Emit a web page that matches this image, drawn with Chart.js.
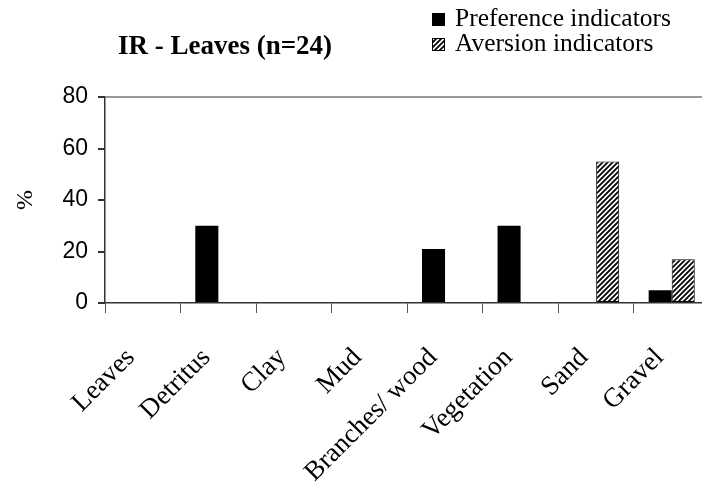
<!DOCTYPE html>
<html>
<head>
<meta charset="utf-8">
<script src="https://cdn.jsdelivr.net/npm/chart.js@4/dist/chart.umd.min.js"></script>
<style>
  html, body { margin: 0; padding: 0; background: #fff; overflow: hidden; }
  #wrap { width: 702px; height: 493px; overflow: hidden; }
</style>
</head>
<body>
<div id="wrap"><canvas id="chart" width="724" height="493"></canvas></div>
<script>
var categories = ["Leaves", "Detritus", "Clay", "Mud", "Branches/ wood", "Vegetation", "Sand", "Gravel"];
var preference = [0, 30, 0, 0, 21, 30, 0, 5];
var aversion = [0, 0, 0, 0, 0, 0, 55, 17];
var yTicks = [0, 20, 40, 60, 80];
var chartTitle = "IR - Leaves (n=24)";

// diagonal hatch for the aversion bars
function hatch() {
  var c = document.createElement("canvas");
  c.width = 5; c.height = 5;
  var g = c.getContext("2d");
  g.fillStyle = "#fff";
  g.fillRect(0, 0, 5, 5);
  g.strokeStyle = "#000";
  g.lineWidth = 1.8;
  g.beginPath();
  g.moveTo(-1, 6); g.lineTo(6, -1);
  g.moveTo(-1, 1); g.lineTo(1, -1);
  g.moveTo(4, 6); g.lineTo(6, 4);
  g.stroke();
  return g.createPattern(c, "repeat");
}
var ctx = document.getElementById("chart").getContext("2d");
var hatchFill = hatch();

var serif = "'Liberation Serif', 'DejaVu Serif', serif";

var headerPlugin = {
  id: "header",
  afterDraw: function (chart) {
    var c = chart.ctx;
    c.save();
    c.fillStyle = "#000";
    c.textBaseline = "middle";
    c.font = "bold 27px " + serif;
    c.fillText(chartTitle, 118, 47);
    c.font = "25.5px " + serif;
    chart.data.datasets.forEach(function (ds, i) {
      var y = 19 + i * 25;
      c.fillStyle = ds.backgroundColor;
      c.fillRect(432, y - 6, 13, 13);
      c.strokeStyle = "#000";
      c.lineWidth = 1;
      c.strokeRect(432.5, y - 5.5, 12, 12);
      c.fillStyle = "#000";
      c.fillText(ds.label, 455, y);
    });
    c.restore();
  }
};

var chart = new Chart(ctx, {
  type: "bar",
  data: {
    labels: categories,
    datasets: [
      {
        label: "Preference indicators",
        data: preference,
        backgroundColor: "#000",
        borderColor: "#000",
        borderWidth: 0
      },
      {
        label: "Aversion indicators",
        data: aversion,
        backgroundColor: hatchFill,
        borderColor: "#000",
        borderWidth: 1,
        borderSkipped: false
      }
    ]
  },
  options: {
    responsive: false,
    animation: false,
    categoryPercentage: 0.61,
    barPercentage: 1,
    layout: { padding: { top: 97, right: 6, left: 0, bottom: 0 } },
    plugins: {
      legend: { display: false },
      title: { display: false },
      tooltip: { enabled: false }
    },
    scales: {
      x: {
        afterFit: function (s) { s.height = 190; },
        border: { color: "#333", width: 1.5 },
        grid: { offset: true, drawOnChartArea: false, color: "#555", tickLength: 10 },
        ticks: {
          color: "#000",
          font: { family: serif, size: 27 },
          maxRotation: 45,
          minRotation: 45,
          padding: 29,
          labelOffset: -12
        }
      },
      y: {
        min: 0,
        max: 80,
        afterFit: function (s) { s.width = 105; },
        afterBuildTicks: function (s) { s.ticks = yTicks.map(function (v) { return { value: v }; }); },
        border: { color: "#333", width: 1.5 },
        grid: {
          color: function (c) { return c.tick && c.tick.value === 80 ? "#999" : "rgba(0,0,0,0)"; },
          lineWidth: 2,
          tickColor: "#333",
          tickLength: 7
        },
        ticks: {
          color: "#000",
          font: { family: "'Liberation Sans', Arial, sans-serif", size: 23 },
          padding: 10
        },
        title: {
          display: true,
          text: "%",
          color: "#000",
          font: { family: serif, size: 24 },
          padding: { top: 11, bottom: 0 }
        }
      }
    }
  },
  plugins: [headerPlugin]
});
</script>
</body>
</html>
